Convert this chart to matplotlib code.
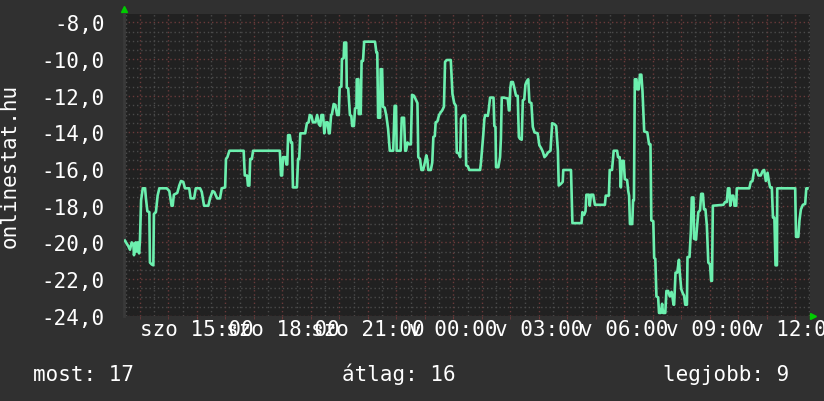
import matplotlib
matplotlib.use('Agg')
import matplotlib.pyplot as plt
from matplotlib.ticker import FuncFormatter


""" Data (hours since saturday 00:00, position) """
hours = [
    12.47, 12.59, 12.65, 12.71, 12.77, 12.79, 12.85, 12.88, 12.92, 12.97,
    13.00, 13.04, 13.10, 13.18, 13.21, 13.26, 13.33, 13.35, 13.41, 13.47,
    13.49, 13.56, 13.62, 13.68, 13.94, 14.03, 14.11, 14.15, 14.19, 14.31,
    14.38, 14.44, 14.52, 14.58, 14.73, 14.78, 14.90, 14.96, 15.11, 15.17,
    15.25, 15.40, 15.46, 15.55, 15.61, 15.71, 15.81, 15.87, 15.99, 16.02,
    16.07, 16.14, 16.64, 16.68, 16.76, 16.79, 16.84, 16.87, 16.93, 16.97,
    17.91, 17.95, 17.99, 18.02, 18.10, 18.14, 18.17, 18.20, 18.26, 18.30,
    18.34, 18.37, 18.51, 18.55, 18.59, 18.63, 18.80, 18.86, 18.92, 18.96,
    19.02, 19.07, 19.16, 19.22, 19.28, 19.33, 19.37, 19.43, 19.47, 19.53,
    19.59, 19.63, 19.66, 19.71, 19.74, 19.80, 19.86, 19.92, 19.98, 20.01,
    20.07, 20.09, 20.15, 20.17, 20.24, 20.26, 20.31, 20.37, 20.42, 20.45,
    20.51, 20.55, 20.60, 20.61, 20.67, 20.68, 20.75, 20.78, 20.83, 20.87,
    21.25, 21.30, 21.33, 21.36, 21.43, 21.45, 21.50, 21.53, 21.59, 21.65,
    21.71, 21.77, 21.89, 21.94, 21.99, 22.01, 22.15, 22.19, 22.27, 22.31,
    22.34, 22.39, 22.45, 22.51, 22.55, 22.62, 22.68, 22.74, 22.77, 22.83,
    22.88, 22.94, 23.00, 23.05, 23.09, 23.12, 23.21, 23.26, 23.30, 23.35,
    23.38, 23.44, 23.50, 23.56, 23.61, 23.67, 23.71, 23.77, 23.91, 23.97,
    24.03, 24.09, 24.12, 24.19, 24.24, 24.27, 24.33, 24.39, 24.42, 24.45,
    24.51, 24.56, 24.94, 24.97, 25.01, 25.05, 25.09, 25.12, 25.21, 25.24,
    25.29, 25.41, 25.44, 25.48, 25.50, 25.58, 25.64, 25.67, 25.70, 25.76,
    25.91, 25.95, 25.97, 26.00, 26.03, 26.09, 26.14, 26.20, 26.26, 26.30,
    26.34, 26.40, 26.44, 26.49, 26.53, 26.58, 26.63, 26.67, 26.74, 26.79,
    26.85, 26.96, 27.02, 27.08, 27.14, 27.20, 27.26, 27.32, 27.41, 27.47,
    27.55, 27.61, 27.67, 27.70, 27.78, 27.84, 27.86, 28.13, 28.18, 28.50,
    28.53, 28.59, 28.64, 28.67, 28.76, 28.79, 28.83, 28.91, 28.97, 29.32,
    29.35, 29.46, 29.49, 29.57, 29.63, 29.75, 29.78, 29.84, 29.88, 29.92,
    29.98, 30.02, 30.10, 30.14, 30.17, 30.20, 30.28, 30.31, 30.34, 30.37,
    30.43, 30.45, 30.51, 30.55, 30.60, 30.64, 30.70, 30.81, 30.87, 30.92,
    30.95, 31.02, 31.05, 31.09, 31.13, 31.19, 31.22, 31.28, 31.33, 31.36,
    31.44, 31.48, 31.54, 31.60, 31.66, 31.69, 31.73, 31.75, 31.80, 31.86,
    31.92, 31.95, 32.00, 32.06, 32.10, 32.14, 32.20, 32.22, 32.29, 32.34,
    32.37, 32.43, 32.45, 32.52, 32.55, 32.60, 32.66, 32.70, 32.76, 32.80,
    32.85, 32.90, 32.95, 33.01, 33.05, 33.08, 33.11, 33.48, 33.54, 33.60,
    33.64, 33.69, 33.72, 33.78, 33.83, 33.87, 33.93, 33.95, 34.39, 34.44,
    34.50, 34.56, 34.65, 34.71, 34.79, 34.86, 34.91, 34.97, 35.03, 35.08,
    35.12, 35.18, 35.22, 35.27, 35.31, 35.36, 35.37, 36.00, 36.03, 36.11,
    36.15, 36.20, 36.27, 36.35, 36.39, 36.43,
]
position = [
    -19.9, -20.2, -20.4, -20.0, -20.1, -20.7, -20.0, -20.5, -20.0, -20.6,
    -19.9, -17.7, -17.05, -17.05, -17.6, -18.3, -18.35, -21.1, -21.2, -21.25,
    -18.45, -18.35, -17.45, -17.05, -17.05, -17.2, -18.0, -18.0, -17.4, -17.3,
    -16.9, -16.65, -16.7, -17.05, -17.05, -17.6, -17.6, -17.05, -17.05, -17.25,
    -18.0, -18.0, -17.6, -17.2, -17.25, -17.6, -17.6, -17.05, -17.0, -15.45,
    -15.35, -15.0, -15.0, -16.35, -16.35, -16.9, -16.9, -15.45, -15.45, -15.0,
    -15.0, -16.35, -16.35, -15.35, -15.35, -15.75, -15.75, -14.15, -14.15, -14.55,
    -14.55, -17.0, -17.0, -15.45, -15.45, -14.05, -14.05, -13.5, -13.45, -13.05,
    -13.1, -13.45, -13.45, -13.05, -13.55, -13.65, -13.05, -13.05, -14.05, -13.45,
    -13.45, -14.05, -14.05, -13.05, -13.0, -12.45, -12.5, -13.05, -13.05, -11.55,
    -11.5, -10.0, -9.95, -9.1, -9.1, -11.55, -11.6, -13.05, -13.1, -13.65,
    -13.65, -12.7, -12.65, -11.1, -11.1, -13.0, -13.0, -10.1, -10.1, -9.05,
    -9.05, -9.65, -9.65, -13.2, -13.2, -10.55, -10.55, -12.6, -12.65, -13.1,
    -13.8, -15.0, -15.0, -12.55, -12.55, -15.0, -15.0, -13.2, -13.2, -15.0,
    -15.0, -14.55, -14.65, -14.65, -11.95, -12.0, -12.2, -12.4, -15.35, -15.45,
    -16.05, -16.05, -15.65, -15.25, -15.5, -16.05, -16.05, -15.65, -14.25, -14.2,
    -13.45, -13.4, -13.05, -12.9, -12.8, -12.6, -10.15, -10.05, -10.05, -11.9,
    -12.4, -12.55, -15.1, -15.15, -15.35, -13.25, -13.1, -13.05, -13.1, -15.8,
    -15.85, -16.05, -16.05, -15.65, -14.9, -14.15, -13.25, -13.05, -13.1, -12.8,
    -12.1, -12.1, -13.65, -13.7, -15.9, -15.9, -15.35, -14.35, -12.1, -12.1,
    -12.15, -12.8, -12.8, -11.6, -11.25, -11.25, -11.55, -12.0, -12.0, -14.25,
    -14.35, -14.4, -12.25, -12.2, -11.4, -11.2, -11.1, -12.35, -12.4, -13.7,
    -14.0, -14.05, -14.7, -14.85, -15.05, -15.35, -15.25, -15.1, -15.0, -13.5,
    -13.55, -13.65, -15.0, -16.9, -16.8, -16.7, -16.05, -16.05, -18.95, -18.95,
    -18.35, -18.5, -18.3, -17.4, -17.4, -18.0, -17.4, -17.4, -17.95, -17.95,
    -17.45, -17.45, -16.05, -16.05, -15.0, -15.0, -15.35, -15.35, -17.0, -15.55,
    -15.55, -16.55, -16.6, -17.2, -17.45, -19.0, -19.0, -17.7, -17.7, -11.1,
    -11.1, -11.65, -11.65, -10.85, -10.85, -11.75, -13.95, -14.0, -14.65, -14.65,
    -18.8, -18.85, -20.85, -20.9, -22.95, -23.0, -23.85, -23.85, -23.35, -23.85,
    -23.85, -22.65, -22.65, -22.95, -22.7, -22.95, -23.4, -23.4, -21.65, -21.65,
    -20.95, -21.65, -22.55, -22.8, -22.9, -23.4, -23.4, -20.8, -20.8, -19.35,
    -17.55, -17.55, -19.8, -19.85, -19.25, -18.35, -18.25, -17.35, -17.35, -18.2,
    -18.2, -19.1, -21.1, -21.2, -22.1, -22.1, -18.0, -17.95, -17.8, -17.8,
    -17.05, -17.05, -18.0, -17.45, -17.45, -18.0, -18.0, -17.05, -17.05, -16.7,
    -16.65, -16.05, -16.05, -16.35, -16.35, -16.1, -16.05, -16.65, -16.2, -16.7,
    -17.0, -17.0, -18.65, -18.65, -21.25, -21.25, -17.05, -17.05, -19.7, -19.7,
    -18.8, -18.2, -17.95, -17.9, -17.05, -17.05,
]

tickHours = [15, 18, 21, 24, 27, 30, 33, 36]
tickLabels = ['szo 15:00', 'szo 18:00', 'szo 21:00', 'v 00:00',
              'v 03:00', 'v 06:00', 'v 09:00', 'v 12:00']
yTicks = [-24, -22, -20, -18, -16, -14, -12, -10, -8]
stats = [('most', 17), ('átlag', 16), ('legjobb', 9)]


""" Style """
BG = '#303030'
PLOT_BG = '#212121'
LINE = '#6cefae'
MAJOR = '#6a3a3a'
MINOR = '#4a4a4a'
FONT = 'DejaVu Sans Mono'
FS = 15
DOTS = (0, (1, 2))


def drawChart(fileName='out.png'):
    fig = plt.figure(figsize=(8.24, 4.02), dpi=100, facecolor=BG)
    ax = fig.add_axes([124 / 824, 1 - 316.7 / 402, 686 / 824, 301.7 / 402])
    ax.set_facecolor(PLOT_BG)

    xmin, xmax = 12.44, 36.52
    ymin, ymax = -24, -7.54

    # rrdtool style grid: gray every half unit, red every major step
    for i in range(25, 74):
        h = i / 2
        ax.axvline(h, color=MAJOR if i % 2 == 0 else MINOR, linestyle=DOTS,
                   linewidth=1, zorder=0.5)
    for i in range(-48, -15):
        v = i / 2
        ax.axhline(v, color=MAJOR if i % 4 == 0 else MINOR, linestyle=DOTS,
                   linewidth=1, zorder=0.5)

    ax.plot(hours, position, color=LINE, linewidth=1.9, zorder=3)

    ax.set_xlim(xmin, xmax)
    ax.set_ylim(ymin, ymax)

    ax.set_xticks(tickHours, labels=tickLabels)
    ax.set_xticks(list(range(13, 37)), minor=True)
    ax.set_yticks(yTicks)
    ax.yaxis.set_major_formatter(FuncFormatter(lambda v, p: ('%.1f' % v).replace('.', ',')))
    ax.tick_params(axis='y', which='both', length=0, pad=14, labelcolor='white', labelsize=FS)
    ax.tick_params(axis='x', which='both', length=2, color=MAJOR, pad=0.5,
                   labelcolor='white', labelsize=FS)
    for lab in ax.get_xticklabels() + ax.get_yticklabels():
        lab.set_family(FONT)

    for side in ['top', 'right', 'bottom']:
        ax.spines[side].set_visible(False)
    ax.spines['left'].set_color('#3a3a3a')
    ax.spines['left'].set_linewidth(2)

    # arrows at the axis ends
    ax.plot([0], [1.015], marker='^', color='#00cc00', markersize=4,
            transform=ax.transAxes, clip_on=False)
    ax.plot([1.005], [0], marker='>', color='#00cc00', markersize=4,
            transform=ax.transAxes, clip_on=False)

    fig.text(10 / 824, 1 - (15 + 316.7) / 2 / 402, 'onlinestat.hu', rotation=90,
             color='white', family=FONT, fontsize=FS, ha='center', va='center')

    xs = [33, 342, 663]
    for (name, val), x in zip(stats, xs):
        fig.text(x / 824, 1 - 381 / 402, '%s: %d' % (name, val), color='white',
                 family=FONT, fontsize=FS, ha='left', va='baseline')

    fig.savefig(fileName, dpi=100, facecolor=BG)


if __name__ == '__main__':
    drawChart()
